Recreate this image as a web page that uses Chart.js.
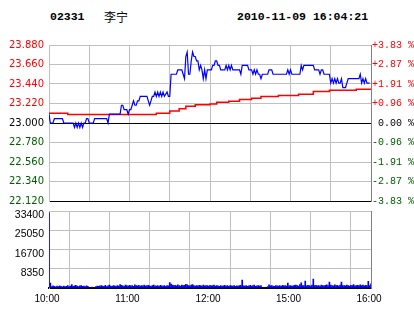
<!DOCTYPE html>
<html>
<head>
<meta charset="utf-8">
<title>02331 李宁</title>
<script src="https://cdn.jsdelivr.net/npm/chart.js@4.4.1/dist/chart.umd.min.js"></script>
<style>
  body { margin: 0; width: 414px; height: 314px; background: #fff; position: relative; overflow: hidden; }
  .head { position: absolute; top: 10px; font: bold 11.5px "Liberation Mono", monospace; line-height: 14px; color: #000; white-space: pre; }
  #code { left: 50px; }
  #name { left: 104px; font-family: "Noto Sans CJK SC", sans-serif; font-size: 12px; font-weight: normal; }
  #time { left: 237px; }
  #price { position: absolute; left: 0; top: 0; }
  #volume { position: absolute; left: 0; top: 200px; }
</style>
</head>
<body>
<div class="head" id="code">02331</div>
<div class="head" id="name">李宁</div>
<div class="head" id="time">2010-11-09 16:04:21</div>
<canvas id="price" width="414" height="212"></canvas>
<canvas id="volume" width="414" height="114"></canvas>
<script>
// previous close, axis ticks
const prevClose = 23.00;
const priceTicks = [22.12, 22.34, 22.56, 22.78, 23.00, 23.22, 23.44, 23.66, 23.88];
const pctLabels = ['-3.83 %', '-2.87 %', '-1.91 %', '-0.96 %', ' 0.00 %', '+0.96 %', '+1.91 %', '+2.87 %', '+3.83 %'];
const volTicks = [0, 8350, 16700, 25050, 33400];
const timeTicks = [0, 60, 120, 180, 240];
const timeLabels = ['10:00', '11:00', '12:00', '15:00', '16:00'];

// price line: minute of session and price at that minute
const priceMin = [0, 1, 3, 4, 10, 11, 18, 19, 20, 21, 22, 23, 24, 25, 26, 27, 28, 29, 30, 33,
  34, 43, 44, 45, 53, 54, 55, 56, 58, 59, 60, 61, 62, 63, 64, 65, 66, 67, 68, 73,
  74, 75, 76, 77, 78, 79, 80, 81, 82, 83, 84, 85, 86, 88, 89, 90, 91, 95, 96, 99,
  100, 101, 102, 103, 104, 105, 106, 107, 108, 109, 110, 111, 112, 113, 114, 115, 116, 117, 118, 121,
  122, 123, 124, 125, 126, 127, 128, 131, 132, 133, 134, 135, 136, 137, 142, 143, 144, 148, 149, 151,
  152, 153, 154, 155, 156, 157, 158, 159, 163, 164, 166, 167, 177, 178, 179, 180, 181, 187, 188, 189,
  190, 197, 198, 201, 202, 203, 204, 205, 209, 210, 211, 212, 213, 214, 215, 216, 217, 218, 219, 221,
  222, 223, 231, 232, 233, 234, 235, 236, 237, 239];
const priceVal = [23.10, 23.00, 23.00, 23.05, 23.05, 23.00, 23.00, 22.95, 23.00, 22.95, 23.00, 22.95, 23.00, 22.95, 23.00, 23.00, 23.05, 23.05, 23.00, 23.00,
  23.05, 23.05, 23.00, 23.10, 23.10, 23.20, 23.20, 23.15, 23.15, 23.10, 23.15, 23.15, 23.20, 23.25, 23.20, 23.20, 23.25, 23.25, 23.30, 23.30,
  23.25, 23.20, 23.25, 23.30, 23.30, 23.35, 23.30, 23.35, 23.30, 23.35, 23.30, 23.35, 23.30, 23.35, 23.30, 23.30, 23.55, 23.55, 23.60, 23.60,
  23.55, 23.50, 23.75, 23.80, 23.55, 23.55, 23.70, 23.80, 23.75, 23.75, 23.70, 23.70, 23.60, 23.65, 23.60, 23.50, 23.60, 23.50, 23.60, 23.60,
  23.65, 23.65, 23.70, 23.70, 23.65, 23.65, 23.60, 23.60, 23.65, 23.60, 23.65, 23.60, 23.65, 23.60, 23.60, 23.55, 23.65, 23.65, 23.60, 23.60,
  23.55, 23.60, 23.55, 23.60, 23.55, 23.55, 23.50, 23.55, 23.55, 23.60, 23.60, 23.55, 23.55, 23.60, 23.55, 23.60, 23.55, 23.55, 23.65, 23.60,
  23.65, 23.65, 23.60, 23.60, 23.55, 23.60, 23.60, 23.55, 23.55, 23.45, 23.50, 23.45, 23.50, 23.45, 23.50, 23.45, 23.45, 23.50, 23.40, 23.40,
  23.45, 23.50, 23.50, 23.55, 23.45, 23.50, 23.45, 23.50, 23.45, 23.45];

// average price line (steps)
const avgMin = [0, 14, 80, 90, 97, 102, 109, 120, 125, 134, 142, 151, 158, 171, 186, 197, 209, 229, 240];
const avgVal = [23.11, 23.095, 23.11, 23.135, 23.16, 23.19, 23.205, 23.215, 23.235, 23.245, 23.265, 23.28, 23.30, 23.31, 23.325, 23.355, 23.37, 23.38, 23.38];

// volume per minute, minute 0..240
const volume = [
  32800, 2100, 600, 900, 700, 500, 800, 600, 900, 700,
  500, 800, 600, 700, 1000, 600, 800, 1500, 700, 900,
  1200, 800, 600, 900, 1100, 700, 800, 600, 900, 700,
  0, 0, 400, 0, 0, 600, 800, 700, 900, 1100,
  800, 700, 1200, 600, 900, 1300, 800, 700, 1000, 900,
  700, 1100, 800, 1500, 1200, 900, 700, 1300, 1000, 800,
  1200, 900, 1100, 700, 1400, 1000, 900, 1200, 800, 1100,
  900, 1300, 800, 1000, 1200, 900, 700, 1100, 1300, 900,
  800, 1000, 700, 1200, 900, 800, 1100, 700, 1000, 900,
  2400, 1700, 1300, 1000, 1200, 900, 1400, 1100, 800, 1300,
  1000, 1200, 1600, 1400, 1100, 900, 1300, 1500, 1000, 800,
  1100, 900, 1200, 1000, 800, 1300, 900, 1100, 1000, 800,
  1200, 900, 1000, 1300, 800, 1100, 900, 700, 1000, 800,
  900, 1200, 800, 1000, 700, 1100, 900, 800, 1000, 700,
  900, 800, 1000, 1200, 3400, 900, 800, 1100, 700, 900,
  1200, 800, 1000, 1300, 700, 900, 1100, 800, 1000, 0,
  0, 0, 0, 600, 1400, 900, 1000, 800, 700, 1100,
  900, 800, 1000, 700, 1200, 900, 1000, 800, 2100, 900,
  1100, 800, 900, 1200, 1300, 1000, 800, 1500, 2200, 1000,
  1100, 3000, 900, 1200, 1000, 800, 1300, 3900, 1000, 1200,
  900, 1100, 800, 1300, 1000, 900, 1200, 1400, 1000, 2600,
  1300, 1100, 900, 1400, 1000, 1200, 800, 1300, 2600, 1000,
  1100, 900, 1300, 1000, 800, 1200, 1100, 1500, 900, 1000,
  1200, 1000, 1400, 1100, 1300, 900, 1200, 1000, 2900, 1100,
  1800];

const gridGray = '#c0c0c0';

function levelColor(v) {
  if (Math.abs(v - prevClose) < 0.001) return '#000000';
  return v > prevClose ? '#ff0000' : '#006000';
}

let priceChart = new Chart(document.getElementById('price').getContext('2d'), {
  type: 'line',
  data: {
    datasets: [
      {
        label: '价格',
        data: priceMin.map((m, i) => ({ x: m, y: priceVal[i] })),
        borderColor: '#0000ff',
        borderWidth: 1.2,
        pointRadius: 0,
        tension: 0
      },
      {
        label: '均价',
        data: avgMin.map((m, i) => ({ x: m, y: avgVal[i] })),
        borderColor: '#ff0000',
        borderWidth: 1.5,
        pointRadius: 0,
        stepped: true
      }
    ]
  },
  options: {
    responsive: false,
    animation: false,
    events: [],
    layout: { padding: { top: 45, bottom: 9, left: 0, right: 0 } },
    plugins: { legend: { display: false }, tooltip: { enabled: false } },
    scales: {
      x: {
        type: 'linear', min: 0, max: 240,
        ticks: { display: false, stepSize: 30 },
        grid: { color: gridGray, drawTicks: false },
        border: { display: false },
        afterFit: s => { s.height = 0; }
      },
      y: {
        position: 'left', min: 22.12, max: 23.88,
        afterBuildTicks: s => { s.ticks = priceTicks.map(v => ({ value: v })); },
        afterFit: s => { s.width = 49; },
        ticks: {
          autoSkip: false,
          padding: 5,
          font: { family: 'DejaVu Sans', size: 10 },
          color: ctx => levelColor(ctx.tick.value),
          labelOffset: ctx => ctx.index === 0 ? -3 : (ctx.index === priceTicks.length - 1 ? 3 : 0),
          callback: v => v.toFixed(3)
        },
        grid: {
          drawTicks: false,
          color: ctx => (ctx.index === 0 || Math.abs(ctx.tick.value - prevClose) < 0.001) ? '#000000' : gridGray
        },
        border: { color: gridGray }
      },
      y2: {
        position: 'right', min: 22.12, max: 23.88,
        afterBuildTicks: s => { s.ticks = priceTicks.map(v => ({ value: v })); },
        afterFit: s => { s.width = 43; },
        ticks: {
          autoSkip: false,
          padding: 1,
          font: { family: 'Liberation Mono', size: 10 },
          color: ctx => levelColor(ctx.tick.value),
          labelOffset: ctx => ctx.index === priceTicks.length - 1 ? 3 : 0,
          callback: (v, i) => pctLabels[i]
        },
        grid: { drawOnChartArea: false, drawTicks: false },
        border: { color: '#808080' }
      }
    }
  }
});

let volumeChart = new Chart(document.getElementById('volume').getContext('2d'), {
  type: 'bar',
  data: {
    datasets: [{
      label: '成交量',
      data: volume.map((v, i) => ({ x: i, y: v })),
      backgroundColor: '#0000ff',
      barThickness: 1
    }]
  },
  options: {
    responsive: false,
    animation: false,
    events: [],
    layout: { padding: { top: 10, bottom: 0, left: 0, right: 0 } },
    plugins: { legend: { display: false }, tooltip: { enabled: false } },
    scales: {
      x: {
        type: 'linear', min: 0, max: 240, offset: false,
        afterFit: s => { s.height = 26; },
        ticks: {
          stepSize: 30,
          autoSkip: false,
          maxRotation: 0,
          padding: 5,
          font: { family: 'Liberation Sans', size: 10 },
          color: '#000000',
          labelOffset: ctx => ctx.index === 0 ? 2 : (ctx.index === 8 ? -3.5 : -2),
          callback: v => {
            const k = timeTicks.indexOf(v);
            return k < 0 ? '' : timeLabels[k];
          }
        },
        grid: { color: gridGray, drawTicks: false },
        border: { color: '#000000', width: 2 }
      },
      y: {
        position: 'left', min: 0, max: 33400,
        afterBuildTicks: s => { s.ticks = volTicks.map(v => ({ value: v })); },
        afterFit: s => { s.width = 49; },
        ticks: {
          autoSkip: false,
          padding: 5,
          labelOffset: 4,
          font: { family: 'Liberation Sans', size: 10.5 },
          color: '#000000',
          callback: v => v === 0 ? '' : String(v)
        },
        grid: { color: gridGray, drawTicks: false },
        border: { color: gridGray }
      },
      y2: {
        position: 'right', min: 0, max: 1,
        afterFit: s => { s.width = 43; },
        ticks: { display: false },
        grid: { drawOnChartArea: false, drawTicks: false },
        border: { color: '#808080' }
      }
    }
  }
});
</script>
</body>
</html>
